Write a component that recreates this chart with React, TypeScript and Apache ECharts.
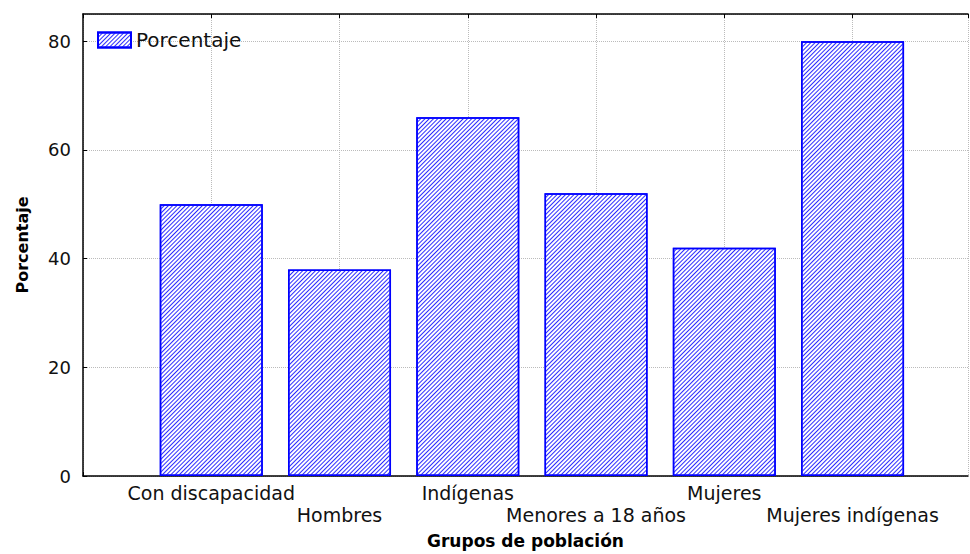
import React, { useEffect, useRef } from "react";
import * as echarts from "echarts";

const categories = [
  "Con discapacidad",
  "Hombres",
  "Indígenas",
  "Menores a 18 años",
  "Mujeres",
  "Mujeres indígenas",
];
const values = [50, 38, 66, 52, 42, 80];
const seriesName = "Porcentaje";
const yTicks = [0, 20, 40, 60, 80];

export default function App() {
  const ref = useRef<HTMLDivElement>(null);
  useEffect(() => {
    if (!ref.current) return;
    const chart = echarts.init(ref.current, null, { renderer: "svg" });
    const font = "DejaVu Sans, Verdana, sans-serif";
    const decal = {
      symbol: "rect",
      symbolSize: 1,
      color: "#2b2bff",
      dashArrayX: [1, 0],
      dashArrayY: [1, 1.8],
      rotation: -Math.PI / 4,
    };
    const xMax = 6.9;
    chart.setOption({
      animation: false,
      textStyle: { fontFamily: font },
      grid: { left: 83, top: 14, right: 2, bottom: 73, containLabel: false },
      legend: {
        show: true,
        left: 92,
        top: 25,
        itemWidth: 33,
        itemHeight: 15,
        itemGap: 8,
        icon: "rect",
        textStyle: { fontSize: 20, color: "#111", fontFamily: font },
        data: [seriesName],
      },
      xAxis: [
        {
          type: "value",
          min: 0,
          max: xMax,
          interval: 1,
          name: "Grupos de población",
          nameLocation: "middle",
          nameGap: 56,
          nameTextStyle: { fontSize: 17, fontWeight: "bold", color: "#000", fontFamily: font },
          axisLine: { show: true, lineStyle: { color: "#000", width: 1.5 } },
          axisTick: { show: true, inside: true, length: 4, lineStyle: { color: "#000" } },
          axisLabel: {
            color: "#111",
            fontSize: 19,
            margin: 6,
            lineHeight: 22,
            fontFamily: font,
            showMaxLabel: false,
            formatter: (v: number) => {
              const i = Math.round(v) - 1;
              if (i < 0 || i >= categories.length) return "";
              return i % 2 === 1 ? "\n" + categories[i] : categories[i];
            },
          },
          splitLine: { show: true, lineStyle: { color: "#bbb", type: "dotted", width: 1 } },
        },
        {
          type: "value",
          position: "top",
          min: 0,
          max: xMax,
          interval: 1,
          axisLine: { show: true, lineStyle: { color: "#000", width: 1.5 } },
          axisTick: { show: true, inside: true, length: 4, lineStyle: { color: "#000" } },
          axisLabel: { show: false },
          splitLine: { show: false },
        },
      ],
      yAxis: {
        type: "value",
        min: 0,
        max: 85,
        interval: 20,
        name: "Porcentaje",
        nameLocation: "middle",
        nameGap: 53,
        nameTextStyle: { fontSize: 16, fontWeight: "bold", color: "#000", fontFamily: font },
        axisLine: { show: true, lineStyle: { color: "#000", width: 1.5 } },
        axisTick: { show: true, inside: true, length: 4, lineStyle: { color: "#000" } },
        axisLabel: {
          color: "#111",
          fontSize: 18,
          margin: 12,
          fontFamily: font,
          showMaxLabel: false,
          formatter: (v: number) => (yTicks.includes(v) ? String(v) : ""),
        },
        splitLine: { show: true, lineStyle: { color: "#bbb", type: "dotted", width: 1 } },
      },
      series: [
        {
          name: seriesName,
          type: "bar",
          xAxisIndex: 0,
          barWidth: 103,
          data: values.map((v, i) => [i + 1, v]),
          itemStyle: {
            color: "#ffffff",
            borderColor: "#0000ff",
            borderWidth: 1.5,
            decal,
          },
        },
      ],
    });
    return () => chart.dispose();
  }, []);
  return <div ref={ref} style={{ width: 970, height: 554, position: "absolute", left: 0, top: 0 }} />;
}
